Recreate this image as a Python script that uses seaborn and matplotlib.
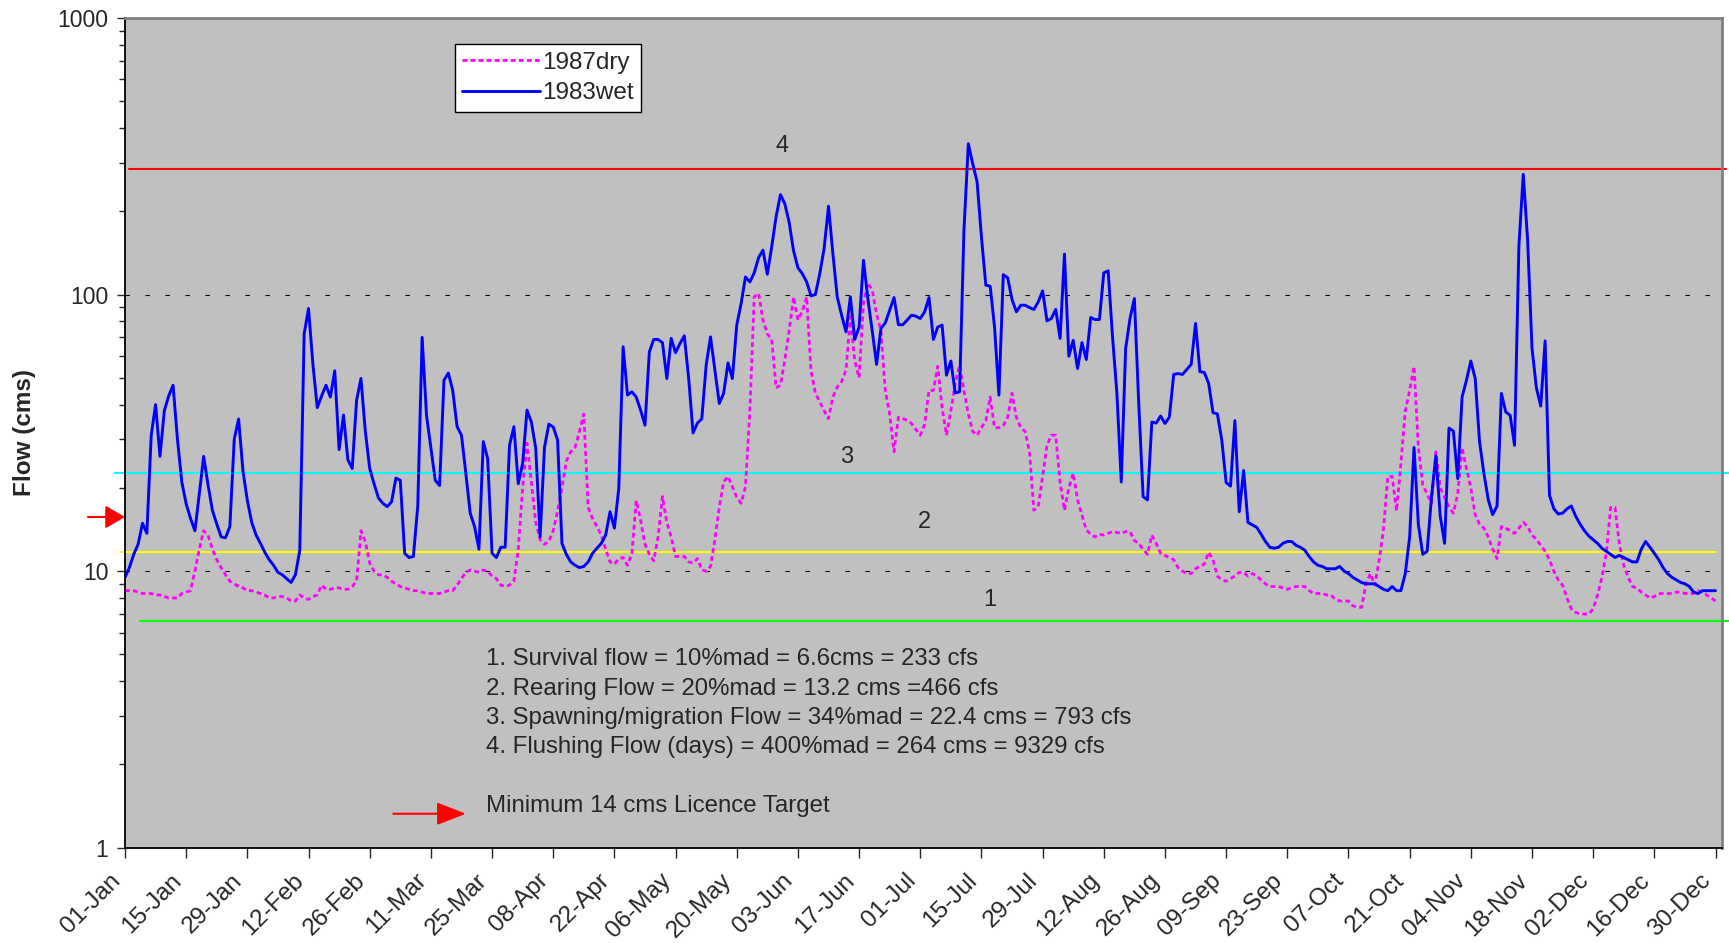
import numpy as np
import pandas as pd
import matplotlib
matplotlib.use("Agg")
import matplotlib.pyplot as plt
from matplotlib.ticker import FixedLocator, LogLocator, NullFormatter
from matplotlib.transforms import ScaledTranslation
import seaborn as sns

# --- data (daily flow, cms) ---
wet_1983 = [
    9.5, 10.3, 11.5, 12.5, 14.9, 13.7, 31, 40, 26, 38,
    43, 47, 30, 21, 17.5, 15.5, 14, 19, 26, 20.5,
    16.6, 14.8, 13.3, 13.2, 14.5, 30, 35.5, 23, 18, 15,
    13.5, 12.6, 11.7, 11, 10.5, 9.9, 9.7, 9.4, 9.1, 9.7,
    11.9, 72, 89, 56, 39, 43, 47, 42.6, 53, 27.5,
    36.7, 25.3, 23.5, 41.5, 49.7, 32, 23.5, 20.7, 18.4, 17.6,
    17.1, 17.8, 21.7, 21.3, 11.6, 11.2, 11.3, 17.2, 70, 36.6,
    28, 21.3, 20.4, 49, 52, 45, 33.3, 31, 22.6, 16.2,
    14.5, 12, 29.4, 25.5, 11.6, 11.2, 12.2, 12.2, 28.5, 33.3,
    20.7, 24.5, 38.2, 34.6, 27.8, 13.3, 28, 34, 33.2, 29.8,
    12.6, 11.5, 10.8, 10.5, 10.3, 10.4, 10.8, 11.6, 12.1, 12.6,
    13.5, 16.4, 14.3, 19.9, 64.7, 43.3, 44.5, 42.6, 38.2, 33.7,
    62, 68.8, 68.8, 67, 49.7, 69.4, 61.6, 66.5, 70.9, 49.7,
    31.6, 34.3, 35.5, 55.5, 70.3, 53.3, 40.4, 43.9, 56.6, 49.7,
    77.5, 92.8, 115.8, 111, 119.8, 136, 144.7, 118.4, 148.7, 191,
    229.6, 213, 182, 144, 125, 119, 111, 98.9, 100, 119,
    146.7, 208.5, 140.7, 98, 84.2, 73.3, 98, 68.8, 76.3, 133,
    96.7, 74, 55.9, 75.4, 79, 87.8, 97.5, 77.8, 77.8, 80.8,
    84.2, 83.5, 81.9, 86.6, 97.5, 68.8, 76.3, 77.5, 51.1, 57.5,
    44.1, 44.5, 170.9, 351, 297, 256, 161.6, 108.1, 107.2, 76.3,
    43.3, 118, 115, 95.9, 86.6, 91.5, 91.5, 89.7, 88.3, 94.1,
    103.1, 80.3, 81.9, 88.3, 69.4, 140, 59.8, 68.3, 54, 67,
    58.2, 82.6, 81.2, 81.2, 119.8, 121.8, 70.3, 44, 21, 63.8,
    81.9, 96.7, 40.4, 18.6, 18.1, 34.6, 34.3, 36.4, 34.2, 36,
    51.4, 51.8, 51.4, 53.6, 55.9, 78.6, 52.6, 52.3, 47.7, 37.4,
    37, 29.8, 20.9, 20.3, 35, 16.4, 23.1, 15, 14.7, 14.4,
    13.6, 12.8, 12.2, 12.1, 12.2, 12.6, 12.8, 12.8, 12.4, 12.2,
    11.9, 11.3, 10.8, 10.5, 10.4, 10.2, 10.2, 10.2, 10.4, 10.0,
    9.8, 9.5, 9.3, 9.1, 9.0, 9.0, 9.0, 8.8, 8.6, 8.5,
    8.8, 8.5, 8.5, 9.8, 13.3, 28, 14.7, 11.5, 11.8, 18.6,
    26.1, 15.8, 12.6, 32.9, 32.1, 21.6, 42.6, 49, 57.5, 49.7,
    29.3, 22.5, 18.1, 16, 17.2, 43.9, 37.6, 36.6, 28.5, 150,
    272, 157, 64, 46, 39.5, 68, 18.8, 16.8, 16.1, 16.2,
    16.8, 17.2, 15.8, 14.8, 14, 13.4, 13, 12.6, 12.1, 11.8,
    11.5, 11.2, 11.4, 11.2, 11, 10.8, 10.8, 12, 12.8, 12.2,
    11.6, 11, 10.3, 9.8, 9.5, 9.3, 9.1, 9.0, 8.8, 8.4,
    8.3, 8.5, 8.5, 8.5, 8.5,
]

dry_1987 = [
    8.5, 8.5, 8.5, 8.4, 8.3, 8.3, 8.3, 8.2, 8.2, 8.1,
    8.0, 8.0, 8.0, 8.3, 8.4, 8.5, 10.0, 12.0, 14.0, 13.5,
    12.0, 11.0, 10.3, 9.7, 9.2, 9.0, 8.8, 8.7, 8.5, 8.5,
    8.4, 8.3, 8.2, 8.0, 8.0, 8.1, 8.1, 8.0, 7.8, 7.8,
    8.2, 8.0, 7.9, 8.1, 8.2, 8.9, 8.6, 8.6, 8.7, 8.7,
    8.6, 8.6, 8.8, 9.2, 14.0, 12.8, 10.7, 10.0, 9.7, 9.7,
    9.5, 9.2, 9.0, 8.8, 8.7, 8.6, 8.5, 8.5, 8.4, 8.3,
    8.3, 8.3, 8.3, 8.4, 8.5, 8.5, 8.9, 9.4, 9.9, 10.1,
    10.0, 9.9, 10.1, 10.0, 9.6, 9.4, 8.9, 8.8, 8.9, 9.2,
    12.0, 20.0, 29, 21, 15, 13, 12.5, 12.8, 14, 16.5,
    20, 25, 27, 28, 32, 37, 17, 15.5, 14.5, 13.5,
    12, 10.8, 10.6, 11.1, 11.2, 10.5, 11.6, 18, 15.3, 12.5,
    11.5, 10.9, 13.3, 18.6, 15, 13.3, 11.3, 11.3, 11.3, 10.8,
    10.7, 11.1, 10.1, 10.0, 10.4, 13.0, 17.0, 21.0, 22, 20.2,
    18.5, 17.6, 20.2, 38, 98, 101, 81, 72, 69, 46,
    47, 58, 74, 98, 81, 87, 98, 53, 44, 41,
    38, 35.6, 42.6, 46.3, 48.4, 53.3, 83, 57.7, 50, 93,
    110, 104, 85, 74, 45, 37, 27, 36, 35.6, 35.1,
    34.2, 32.5, 31, 34, 45, 45, 55, 39, 31, 38,
    47.6, 55.5, 45, 37, 32, 31, 33, 35, 42.6, 33,
    33, 33.5, 36, 44, 36, 33, 32, 27, 16.6, 17.1,
    22, 28.5, 31, 31, 21, 16.6, 20, 22.6, 18.1, 16,
    14.1, 13.6, 13.3, 13.6, 13.5, 13.7, 13.9, 13.8, 13.7, 13.9,
    13.9, 12.9, 12.6, 12, 11.5, 13.5, 12.6, 11.6, 11.4, 11.2,
    11, 10.3, 10, 9.8, 9.8, 10.2, 10.4, 10.6, 11.7, 11,
    9.6, 9.3, 9.2, 9.4, 9.6, 9.9, 9.9, 9.6, 9.8, 9.6,
    9.3, 9.0, 8.8, 8.8, 8.8, 8.7, 8.6, 8.7, 8.8, 8.8,
    8.8, 8.5, 8.3, 8.3, 8.3, 8.2, 8.2, 7.9, 7.8, 7.8,
    7.8, 7.5, 7.4, 7.4, 9.0, 9.8, 8.9, 10.9, 14.1, 22,
    22, 16.5, 24.5, 38, 45, 55, 28, 20.5, 19, 17.6,
    27, 20, 18.5, 17, 16.2, 19, 28, 23.5, 20, 16,
    14.8, 14.3, 13.3, 12, 11.1, 14.5, 14.3, 14, 13.7, 14.3,
    15, 14.5, 13.5, 13, 12.4, 11.8, 11, 10, 9.3, 8.9,
    8, 7.3, 7.1, 7.0, 7.0, 7.0, 7.3, 8.2, 9.5, 11.6,
    17, 17, 12.5, 10.5, 9.5, 8.8, 8.7, 8.4, 8.2, 8.0,
    8.1, 8.3, 8.3, 8.3, 8.3, 8.4, 8.4, 8.3, 8.3, 8.3,
    8.5, 8.4, 8.2, 8.0, 7.8,
]

date_labels = ['01-Jan', '15-Jan', '29-Jan', '12-Feb', '26-Feb', '11-Mar', '25-Mar',
               '08-Apr', '22-Apr', '06-May', '20-May', '03-Jun', '17-Jun', '01-Jul',
               '15-Jul', '29-Jul', '12-Aug', '26-Aug', '09-Sep', '23-Sep', '07-Oct',
               '21-Oct', '04-Nov', '18-Nov', '02-Dec', '16-Dec', '30-Dec']
y_tick_values = [1, 10, 100, 1000]
y_tick_labels = ['1', '10', '100', '1000']

# flow criteria lines (as drawn) and their number labels
level_flows = [6.6, 11.7, 22.7, 285]
level_colors = ['#00FF00', '#FFFF00', '#00FFFF', '#FF0000']
level_names = ['1', '2', '3', '4']
level_start = [3.4, -1.2, -2.3, 0.9]
level_end = [367, 364.1, 367.1, 366.4]
label_day = [198, 182.9, 165.2, 150.4]
label_flow = [7.86, 15.1, 25.9, 344]

notes = ['1. Survival flow = 10%mad = 6.6cms = 233 cfs',
         '2. Rearing Flow = 20%mad = 13.2 cms =466 cfs',
         '3. Spawning/migration Flow = 34%mad = 22.4 cms = 793 cfs',
         '4. Flushing Flow (days) = 400%mad = 264 cms = 9329 cfs']

df = pd.DataFrame({'day': np.arange(len(wet_1983)),
                   '1987dry': dry_1987,
                   '1983wet': wet_1983})

sns.set_style("white")
plt.rcParams['font.family'] = ['Liberation Sans', 'DejaVu Sans']

fig = plt.figure(figsize=(17.29, 9.43), dpi=100)
ax = fig.add_axes([0.0723, 0.101, 0.9237, 0.880])
ax.set_facecolor('#C0C0C0')

# criteria lines
for flow, col, x0, x1 in zip(level_flows, level_colors, level_start, level_end):
    ax.plot([x0, x1], [flow, flow], color=col, lw=1.5, clip_on=False, zorder=1.5)

sns.lineplot(data=df, x='day', y='1987dry', ax=ax, color='#FF00FF', linewidth=2.0,
             linestyle=(0, (1.7, 1.2)), label='1987dry', errorbar=None, zorder=2)
sns.lineplot(data=df, x='day', y='1983wet', ax=ax, color='#0000FF', linewidth=2.1,
             label='1983wet', errorbar=None, zorder=2.1)

ax.set_yscale('log')
ax.set_ylim(1, 1000)
ax.set_xlim(0, 365.5)

ax.yaxis.set_major_locator(FixedLocator(y_tick_values))
ax.set_yticklabels(y_tick_labels)
ax.yaxis.set_minor_locator(LogLocator(base=10, subs=np.arange(2, 10)))
ax.yaxis.set_minor_formatter(NullFormatter())

tick_days = np.arange(0, 365, 14)
ax.set_xticks(tick_days)
ax.tick_params(axis='x', which='major', direction='out', length=7, width=1,
               bottom=True, labelbottom=False)

# rotated date labels, set slightly left of / below each tick like the original
label_tf = ax.get_xaxis_transform() + ScaledTranslation(-0.16, -0.215, fig.dpi_scale_trans)
for d, lab in zip(tick_days, date_labels):
    ax.text(d, 0, lab, transform=label_tf, rotation=45, ha='right', va='top',
            rotation_mode='anchor', fontsize=17.5, clip_on=False)

ax.tick_params(axis='y', which='major', direction='out', length=6, width=1,
               labelsize=16.5, pad=6, left=True)
ax.tick_params(axis='y', which='minor', direction='out', length=4, width=1, left=True)

ax.yaxis.grid(True, which='major', color='black', linestyle=(0, (4, 14)), linewidth=0.8)
ax.xaxis.grid(False)
ax.set_axisbelow(True)

for side in ['left', 'bottom']:
    ax.spines[side].set_color('black')
    ax.spines[side].set_linewidth(1.3)
for side in ['top', 'right']:
    ax.spines[side].set_color('#808080')
    ax.spines[side].set_linewidth(2)

ax.set_xlabel('')
ax.set_ylabel('Flow (cms)', fontsize=17.5, fontweight='bold')
ax.yaxis.set_label_coords(-0.056, 0.5)

for name, d, f in zip(level_names, label_day, label_flow):
    ax.text(d, f, name, ha='center', va='center', fontsize=17)

for i, line in enumerate(notes):
    ax.text(0.226, 0.2271 - i * 0.0354, line, transform=ax.transAxes,
            fontsize=17.3, va='center', ha='left')
ax.text(0.226, 0.0506, 'Minimum 14 cms Licence Target', transform=ax.transAxes,
        fontsize=17.3, va='center', ha='left')

ax.annotate('', xy=(0.2135, 0.041), xytext=(0.168, 0.041), xycoords='axes fraction',
            arrowprops=dict(arrowstyle='-|>,head_length=0.9,head_width=0.35',
                            color='red', lw=1.5, mutation_scale=20, shrinkA=0, shrinkB=0))
ax.annotate('', xy=(0.0, 0.3986), xytext=(-0.0232, 0.3986), xycoords='axes fraction',
            annotation_clip=False,
            arrowprops=dict(arrowstyle='-|>,head_length=0.6,head_width=0.35',
                            color='red', lw=1.5, mutation_scale=20, shrinkA=0, shrinkB=0))

leg = ax.legend(loc='upper left', bbox_to_anchor=(0.2066, 0.968), frameon=True,
                fancybox=False, edgecolor='black', facecolor='white', framealpha=1,
                fontsize=17.5, handlelength=3.2, handletextpad=0.1, borderpad=0.3,
                labelspacing=0.35, borderaxespad=0)
leg.get_frame().set_linewidth(1.0)

fig.savefig('out.png', dpi=100)
